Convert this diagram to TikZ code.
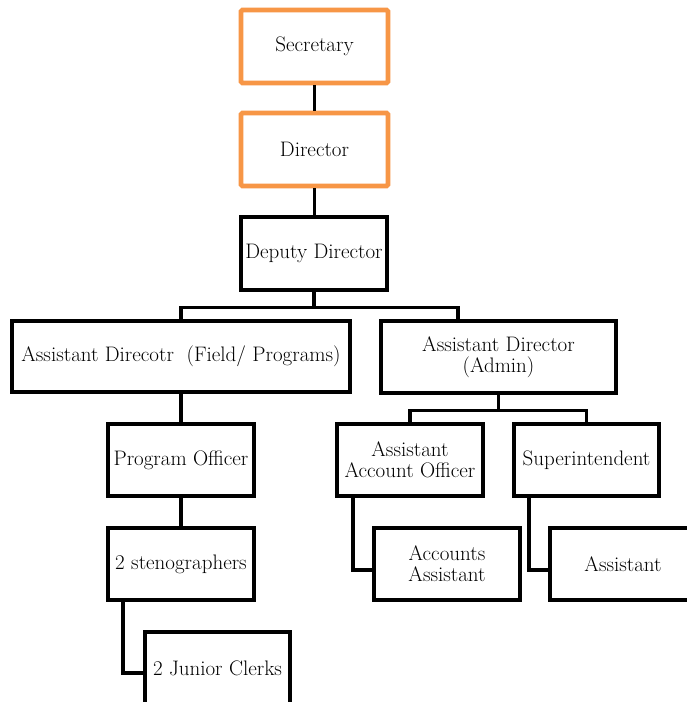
\documentclass[tikz,border=0pt]{standalone}
\definecolor{boxorange}{HTML}{F79646}
\begin{document}
\begin{tikzpicture}[x=1pt,y=-1pt,
  box/.style={draw=black, line width=3.2pt, fill=white, rectangle, inner sep=0pt,
    align=center, font=\fontsize{21}{21}\selectfont},
  topbox/.style={box, draw=boxorange, line width=4.8pt, rounded corners=1.5pt},
  link/.style={draw=black, line width=3.2pt}]
\clip (0,0) rectangle (687,702);
\fill[white] (0,0) rectangle (687,702);

% top of the chart
\node[topbox, minimum width=147pt, minimum height=73pt] (sec) at (314.5,46.5) {Secretary};
\node[topbox, minimum width=147pt, minimum height=73pt] (dir) at (314.5,149.5) {Director};
\node[box, minimum width=146pt, minimum height=73pt] (dep) at (314,253.5) {Deputy Director};

% second level
\node[box, minimum width=338pt, minimum height=71pt] (adf) at (181,356.5) {Assistant Direcotr\ \ (Field/ Programs)};
\node[box, minimum width=235pt, minimum height=72pt] (ada) at (498.5,357) {Assistant Director\\(Admin)};

% field / programs branch
\node[box, minimum width=146pt, minimum height=72pt] (po) at (181,460) {Program Officer};
\node[box, minimum width=146pt, minimum height=72pt] (st) at (181,564) {2 stenographers};
\node[box, minimum width=145pt, minimum height=72pt] (jc) at (217.5,668) {2 Junior Clerks};

% admin branch
\node[box, minimum width=146pt, minimum height=72pt] (aao) at (410,460) {Assistant\\Account Officer};
\node[box, minimum width=145pt, minimum height=72pt] (sup) at (586.5,460) {Superintendent};
\node[box, minimum width=146pt, minimum height=72pt] (aa) at (447,564) {Accounts\\Assistant};
\node[box, minimum width=146pt, minimum height=72pt] (as) at (623,564) {Assistant};

% connectors
\draw[link] (sec.south) -- (sec.south |- dir.north);
\draw[link] (dir.south) -- (dir.south |- dep.north);
\draw[link] (dep.south) -- ++(0,16) coordinate (depfork);
\draw[link] (depfork) -| (adf.north);
\draw[link] (depfork) -| ([xshift=-40.5pt]ada.north);
\draw[link] (adf.south) -- (po.north);
\draw[link] (po.south) -- (st.north);
\draw[link] ([xshift=-58pt]st.south) |- ([yshift=-5pt]jc.west);
\draw[link] (ada.south) -- ++(0,15.5) coordinate (adafork);
\draw[link] (adafork) -| (aao.north);
\draw[link] (adafork) -| (sup.north);
\draw[link] ([xshift=-57pt]aao.south) |- ([yshift=-6pt]aa.west);
\draw[link] ([xshift=-57.5pt]sup.south) |- ([yshift=-6pt]as.west);
\end{tikzpicture}
\end{document}
